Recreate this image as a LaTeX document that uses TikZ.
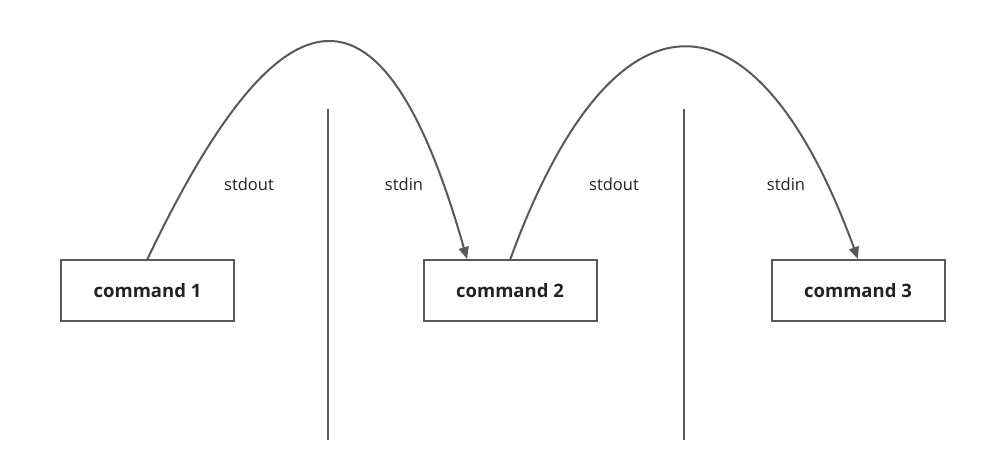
\documentclass[tikz,border=0pt]{standalone}
\usepackage{fontspec}
\setmainfont{Open Sans}
\usetikzlibrary{arrows.meta}
\definecolor{ln}{HTML}{595959}
\definecolor{tx}{HTML}{222222}
\begin{document}
\begin{tikzpicture}[x=1pt,y=-1pt,
  cmdbox/.style={draw=ln,line width=2pt,minimum width=173pt,minimum height=61pt,inner sep=0pt,font=\bfseries\fontsize{18.5}{22}\selectfont,text=tx},
  lbl/.style={font=\fontsize{16.5}{20}\selectfont,text=tx},
  conn/.style={draw=ln,line width=2pt,-{Triangle[length=12pt,width=10pt]}},
  sep/.style={draw=ln,line width=2pt}]
\useasboundingbox (0,0) rectangle (1006,469);
\node[cmdbox] (c1) at (147.5,290.5) {command 1};
\node[cmdbox] (c2) at (510,290.5) {command 2};
\node[cmdbox] (c3) at (858,290.5) {command 3};
\coordinate (s1t) at (328,109); \coordinate (s1b) at (328,440);
\coordinate (s2t) at (684,109); \coordinate (s2b) at (684,440);
\draw[sep] (s1t) -- (s1b);
\draw[sep] (s2t) -- (s2b);
\coordinate (a1) at (147,260);
\coordinate (b1) at (467,259);
\coordinate (a2) at (510,260);
\coordinate (b2) at (858,259);
\draw[conn] (a1) .. controls (285,-30) and (385,-30) .. (b1);
\draw[conn] (a2) .. controls (613,-23) and (755,-23) .. (b2);
\node[lbl] (l1) at (249,184) {stdout};
\node[lbl] (l2) at (404,184) {stdin};
\node[lbl] (l3) at (614,184) {stdout};
\node[lbl] (l4) at (786,184) {stdin};
\end{tikzpicture}
\end{document}
